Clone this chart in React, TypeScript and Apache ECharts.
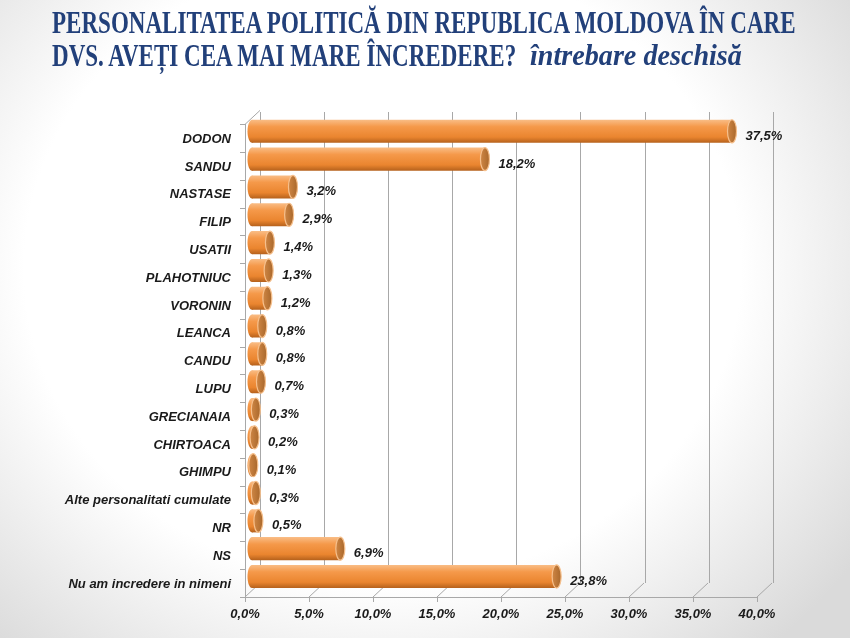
import React, { useEffect, useRef } from "react";
import * as echarts from "echarts";

const categories = [
  "DODON", "SANDU", "NASTASE", "FILIP", "USATII", "PLAHOTNIUC", "VORONIN",
  "LEANCA", "CANDU", "LUPU", "GRECIANAIA", "CHIRTOACA", "GHIMPU",
  "Alte personalitati cumulate", "NR", "NS", "Nu am incredere in nimeni",
];
const values = [37.5, 18.2, 3.2, 2.9, 1.4, 1.3, 1.2, 0.8, 0.8, 0.7, 0.3, 0.2, 0.1, 0.3, 0.5, 6.9, 23.8];
const ticks = [0, 5, 10, 15, 20, 25, 30, 35, 40];

const titleLine1 = "PERSONALITATEA POLITICĂ DIN REPUBLICA MOLDOVA ÎN CARE";
const titleLine2 = "DVS. AVEȚI CEA MAI MARE ÎNCREDERE?";
const titleItalic = "întrebare deschisă";

const fmt = (v: number) => v.toFixed(1).replace(".", ",") + "%";

const DX = 15, DY = -14; // 3D depth offset

const measure = (text: string, font: string, fallback: number) => {
  try {
    const ctx = document.createElement("canvas").getContext("2d");
    if (!ctx) return fallback;
    ctx.font = font;
    const w = ctx.measureText(text).width;
    return w > 0 ? w : fallback;
  } catch {
    return fallback;
  }
};

export default function App() {
  const ref = useRef<HTMLDivElement>(null);
  useEffect(() => {
    const chart = echarts.init(ref.current!, null, { renderer: "svg" });
    const labelFont = { fontFamily: "Liberation Sans, Arial", fontWeight: "bold" as const, fontStyle: "italic" as const, fontSize: 13, color: "#1a1a1a" };
    const gridLineColor = "#a8a8a8";
    const titleColor = "#22407a";
    const f1 = "bold 32px 'Liberation Serif'";
    const f2 = "italic bold 30px 'Liberation Serif'";
    const s1 = 748 / measure(titleLine1, f1, 1080);
    const s2 = 212 / measure(titleItalic, f2, 270);
    chart.setOption({
      animation: false,
      graphic: [
        { type: "text", x: 52, y: 22, scaleX: s1, style: { text: titleLine1, font: f1, fill: titleColor, verticalAlign: "middle", align: "left" } },
        { type: "text", x: 52, y: 55, scaleX: s1, style: { text: titleLine2, font: f1, fill: titleColor, verticalAlign: "middle", align: "left" } },
        { type: "text", x: 530, y: 55, scaleX: s2, style: { text: titleItalic, font: f2, fill: titleColor, verticalAlign: "middle", align: "left" } },
      ],
      grid: [
        { left: 260, right: 77, top: 112, bottom: 55 }, // back wall
        { left: 245, right: 93, top: 124.4, bottom: 41 }, // front axes
        { left: 252, right: 86, top: 117.4, bottom: 47.6 }, // bars (mid depth)
      ],
      xAxis: [
        { gridIndex: 0, type: "value", min: 0, max: 40, interval: 5, axisLine: { show: false }, axisTick: { show: false }, axisLabel: { show: false }, splitLine: { show: true, lineStyle: { color: gridLineColor, width: 1 } } },
        { gridIndex: 1, type: "value", min: 0, max: 40, interval: 5, axisLine: { show: true, lineStyle: { color: gridLineColor } }, axisTick: { show: true, length: 5, inside: false, lineStyle: { color: gridLineColor } }, axisLabel: { ...labelFont, margin: 10, formatter: (v: number) => fmt(v) }, splitLine: { show: false } },
        { gridIndex: 2, type: "value", min: 0, max: 40, interval: 5, show: false, splitLine: { show: false } },
      ],
      yAxis: [
        { gridIndex: 0, type: "category", data: categories, inverse: true, show: false },
        { gridIndex: 1, type: "category", data: categories, inverse: true, axisLine: { show: true, lineStyle: { color: gridLineColor } }, axisTick: { show: true, length: 5, lineStyle: { color: gridLineColor } }, axisLabel: { ...labelFont, margin: 14 } },
        { gridIndex: 2, type: "category", data: categories, inverse: true, show: false },
      ],
      series: [
        {
          type: "custom", xAxisIndex: 1, yAxisIndex: 1, silent: true,
          data: ticks.map((t) => [t]),
          renderItem: (params: any, api: any) => {
            const cs = params.coordSys;
            const x = api.coord([api.value(0), 0])[0];
            const yb = cs.y + cs.height;
            const children: any[] = [
              { type: "line", shape: { x1: x, y1: yb, x2: x + DX, y2: yb + DY }, style: { stroke: gridLineColor, lineWidth: 1 } },
            ];
            if (params.dataIndex === 0) {
              children.push({ type: "line", shape: { x1: cs.x, y1: cs.y, x2: cs.x + DX, y2: cs.y + DY }, style: { stroke: gridLineColor, lineWidth: 1 } });
            }
            return { type: "group", children };
          },
        },
        {
          type: "custom", xAxisIndex: 2, yAxisIndex: 2, silent: true,
          data: values.map((v, i) => [v, i]),
          renderItem: (params: any, api: any) => {
            const v = api.value(0);
            const idx = api.value(1);
            const s = api.coord([0, idx]);
            const e = api.coord([v, idx]);
            const h = api.size([0, 1])[1] * 0.83;
            const cy = s[1];
            const rx = 4.5, ry = h / 2;
            const bodyFill = new echarts.graphic.LinearGradient(0, 0, 0, 1, [
              { offset: 0, color: "#f9bd86" },
              { offset: 0.3, color: "#f5994a" },
              { offset: 0.75, color: "#ea852f" },
              { offset: 1, color: "#b5611c" },
            ]);
            const capFill = new echarts.graphic.LinearGradient(0, 0, 1, 0, [
              { offset: 0, color: "#cf8644" },
              { offset: 1, color: "#a9682c" },
            ]);
            return {
              type: "group",
              children: [
                { type: "ellipse", shape: { cx: s[0], cy, rx, ry }, style: { fill: bodyFill } },
                { type: "rect", shape: { x: s[0], y: cy - ry, width: Math.max(0, e[0] - s[0]), height: h }, style: { fill: bodyFill } },
                { type: "ellipse", shape: { cx: e[0], cy, rx, ry }, style: { fill: capFill, stroke: "#f6c08d", lineWidth: 1.2 } },
                { type: "text", x: e[0] + rx + 9, y: cy + 4, style: { text: fmt(v), fill: "#1a1a1a", font: "italic bold 13px 'Liberation Sans', Arial", verticalAlign: "middle", align: "left" } },
              ],
            };
          },
        },
      ],
    });
    return () => chart.dispose();
  }, []);
  return (
    <div
      ref={ref}
      style={{
        position: "fixed", left: 0, top: 0, width: 850, height: 638,
        background: "radial-gradient(ellipse 68% 80% at 45% 42%, #ffffff 62%, #dadada 100%)",
      }}
    />
  );
}
